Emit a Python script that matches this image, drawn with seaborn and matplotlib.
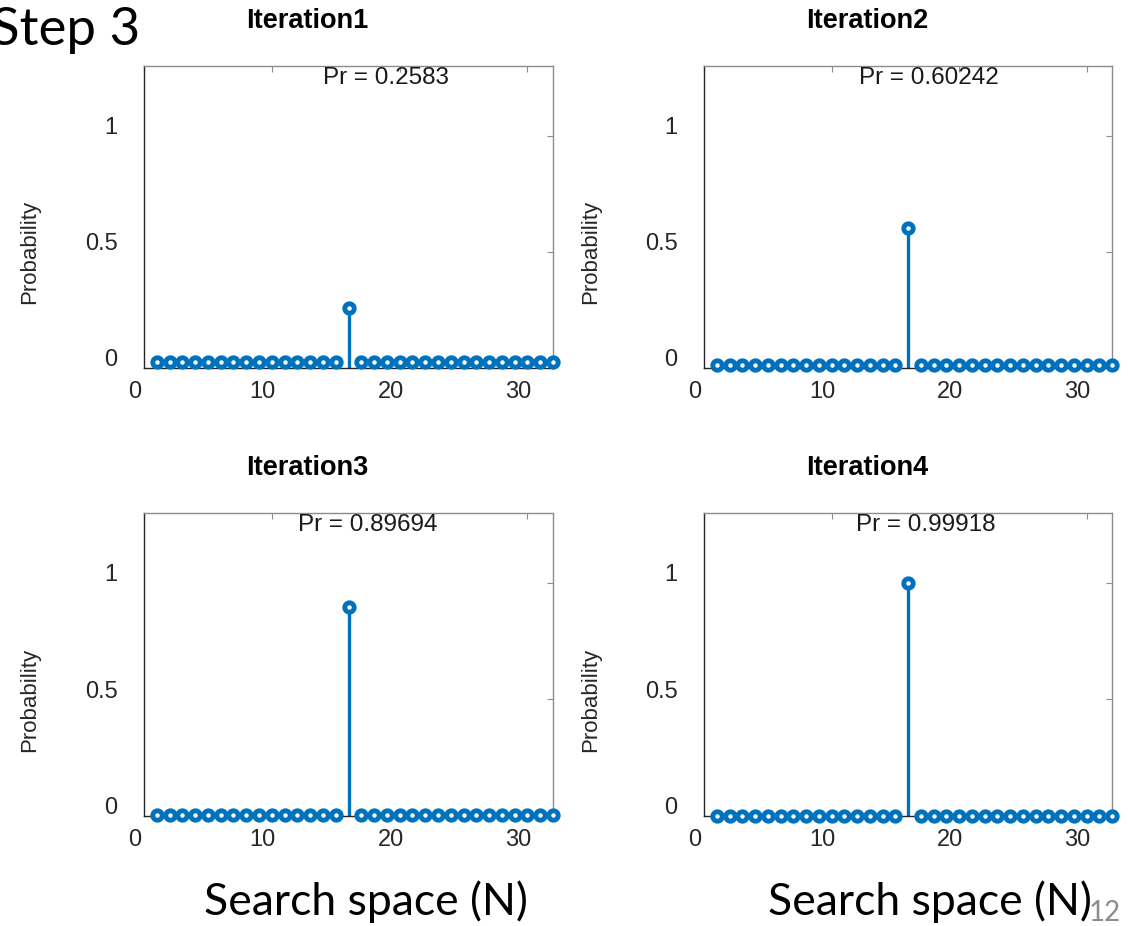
import numpy as np
import pandas as pd
import matplotlib
matplotlib.use('Agg')
import matplotlib.pyplot as plt
from matplotlib.transforms import ScaledTranslation
import seaborn as sns

## values
iterations = ['Iteration1', 'Iteration2', 'Iteration3', 'Iteration4']
search_space = np.arange(1, 33)      # N = 32 states
target_state = 16
target_pr = [0.2583, 0.60242, 0.89694, 0.99918]
other_pr = [0.0239, 0.0128, 0.0033, 0.0000]
pr_labels = ['Pr = 0.2583', 'Pr = 0.60242', 'Pr = 0.89694', 'Pr = 0.99918']

rows = []
for it, hi, lo in zip(iterations, target_pr, other_pr):
    for n in search_space:
        rows.append({'iteration': it, 'N': n, 'probability': hi if n == target_state else lo})
df = pd.DataFrame(rows)

sns.set_theme(style='white')
plt.rcParams['font.family'] = ['Liberation Sans', 'DejaVu Sans']
slide_font = ['Lato', 'Liberation Sans', 'DejaVu Sans']

blue = '#0072BD'
W, H = 1128, 926
fig = plt.figure(figsize=(W / 100, H / 100), dpi=100)

# axes boxes in pixels: left, top, right, bottom
boxes = [(144, 66, 553, 368), (704, 66, 1112, 368),
         (144, 513, 553, 816), (704, 513, 1112, 816)]
pr_x = [18.9, 17.6, 17.5, 17.4]

for i, it in enumerate(iterations):
    l, t, r, b = boxes[i]
    ax = fig.add_axes([l / W, 1 - b / H, (r - l) / W, (b - t) / H])
    sub = df[df.iteration == it]

    ax.vlines(sub.N, 0, sub.probability, color=blue, lw=2.4, zorder=2)
    sns.scatterplot(data=sub, x='N', y='probability', ax=ax, marker='o', s=46,
                    facecolor='white', edgecolor=blue, linewidths=3.5,
                    zorder=3, clip_on=False, legend=False)

    ax.set_xlim(0, 32)
    ax.set_ylim(0, 1.3)
    ax.set_xticks([0, 10, 20, 30])
    ax.set_yticks([0, 0.5, 1])
    ax.set_yticklabels(['0', '0.5', '1'])
    ax.set_xlabel('')
    ax.tick_params(axis='both', direction='in', length=4, width=0.8, color='#8c8c8c',
                   top=True, right=True, labelsize=17, labelcolor='#262626')
    ax.tick_params(axis='x', pad=9)
    ax.tick_params(axis='y', pad=19)
    for lab in ax.get_xticklabels():
        lab.set_transform(lab.get_transform() + ScaledTranslation(-9 / 100, 0, fig.dpi_scale_trans))
    for lab in ax.get_yticklabels():
        lab.set_transform(lab.get_transform() + ScaledTranslation(0, 10 / 100, fig.dpi_scale_trans))

    for side in ['left', 'bottom']:
        ax.spines[side].set_color('#262626')
        ax.spines[side].set_linewidth(1.0)
    for side in ['top', 'right']:
        ax.spines[side].set_color('#8c8c8c')
        ax.spines[side].set_linewidth(1.0)

    ax.set_ylabel('Probability', fontsize=16, color='#262626', va='center')
    ax.yaxis.set_label_coords(-0.279, 0.384)

    ax.text(0.40, 1 + 45 / (b - t), it, transform=ax.transAxes, ha='center', va='center',
            fontsize=19.5, fontweight='bold', color='black')
    ax.text(pr_x[i], 1 - 12 / (b - t), pr_labels[i], transform=ax.get_xaxis_transform(),
            ha='center', va='center', fontsize=17.5, color='#1a1a1a')

fig.text(140 / W, 1 - 45 / H, 'Step 3', ha='right', va='baseline', fontsize=38,
         family=slide_font, color='black')
fig.text(366 / W, 1 - 915 / H, 'Search space (N)', ha='center', va='baseline', fontsize=32,
         family=slide_font, color='black')
fig.text(930 / W, 1 - 915 / H, 'Search space (N)', ha='center', va='baseline', fontsize=32,
         family=slide_font, color='black')
fig.text(1105 / W, 1 - 913 / H, '12', ha='center', va='center', fontsize=20, color='#8c8c8c',
         family=slide_font)

fig.savefig('out.png', dpi=100)
